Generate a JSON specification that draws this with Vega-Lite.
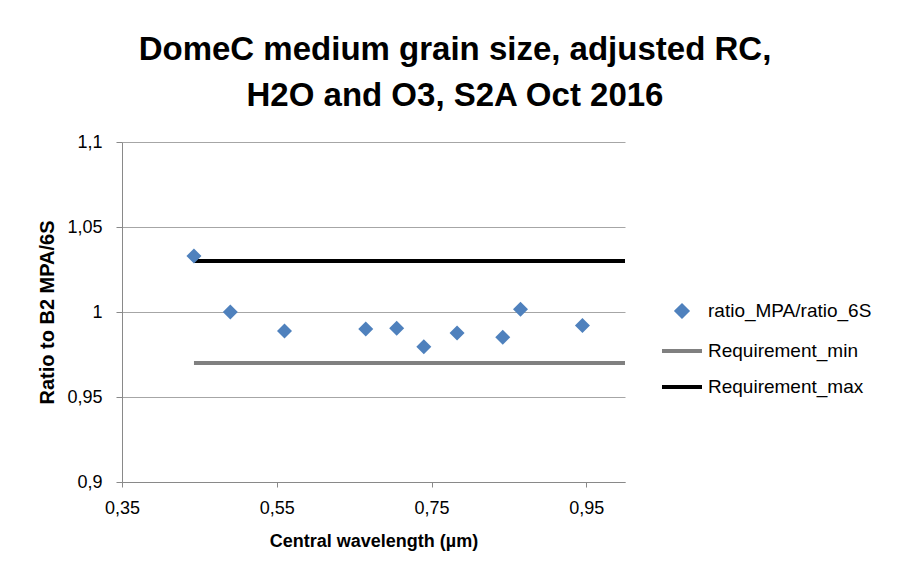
{
  "$schema": "https://vega.github.io/schema/vega-lite/v6.json",
  "width": 503,
  "height": 340,
  "autosize": {"type": "none"},
  "padding": {"left": 122, "top": 142, "right": 276, "bottom": 96},
  "background": "white",
  "title": {
    "text": ["DomeC medium grain size, adjusted RC,", "H2O and O3, S2A Oct 2016"],
    "anchor": "middle",
    "frame": "bounds",
    "font": "Liberation Sans",
    "fontSize": 33,
    "fontWeight": "bold",
    "color": "#000000",
    "lineHeight": 46,
    "offset": 20
  },
  "data": {
    "values": [
      {"series": "ratio_MPA/ratio_6S", "x": 0.443, "y": 1.033},
      {"series": "ratio_MPA/ratio_6S", "x": 0.490, "y": 1.000},
      {"series": "ratio_MPA/ratio_6S", "x": 0.560, "y": 0.9888},
      {"series": "ratio_MPA/ratio_6S", "x": 0.665, "y": 0.990},
      {"series": "ratio_MPA/ratio_6S", "x": 0.705, "y": 0.9905},
      {"series": "ratio_MPA/ratio_6S", "x": 0.740, "y": 0.9796},
      {"series": "ratio_MPA/ratio_6S", "x": 0.783, "y": 0.9876},
      {"series": "ratio_MPA/ratio_6S", "x": 0.842, "y": 0.9851},
      {"series": "ratio_MPA/ratio_6S", "x": 0.865, "y": 1.0016},
      {"series": "ratio_MPA/ratio_6S", "x": 0.945, "y": 0.992},
      {"series": "Requirement_min", "x": 0.443, "y": 0.97},
      {"series": "Requirement_min", "x": 1.0, "y": 0.97},
      {"series": "Requirement_max", "x": 0.443, "y": 1.03},
      {"series": "Requirement_max", "x": 1.0, "y": 1.03}
    ]
  },
  "encoding": {
    "x": {
      "field": "x", "type": "quantitative",
      "scale": {"domain": [0.35, 1.0], "nice": false, "zero": false},
      "axis": {
        "title": "Central wavelength (µm)",
        "values": [0.35, 0.55, 0.75, 0.95],
        "labelExpr": "replace(toString(datum.value), '.', ',')",
        "labelFlush": false,
        "grid": false,
        "tickSize": 5,
        "labelPadding": 12,
        "titlePadding": 15
      }
    },
    "y": {
      "field": "y", "type": "quantitative",
      "scale": {"domain": [0.9, 1.1], "nice": false, "zero": false},
      "axis": {
        "title": "Ratio to B2 MPA/6S",
        "values": [0.9, 0.95, 1.0, 1.05, 1.1],
        "labelExpr": "replace(toString(datum.value), '.', ',')",
        "labelFlush": false,
        "grid": true,
        "tickSize": 6,
        "labelPadding": 14,
        "titlePadding": 9,
        "titleFontSize": 20
      }
    },
    "color": {
      "field": "series", "type": "nominal",
      "scale": {
        "domain": ["ratio_MPA/ratio_6S", "Requirement_min", "Requirement_max"],
        "range": ["#4F81BD", "#808080", "#000000"]
      },
      "legend": {
        "orient": "none",
        "legendX": 538,
        "legendY": 147,
        "title": null,
        "symbolSize": 1600,
        "symbolStrokeWidth": 4,
        "symbolType": "stroke",
        "labelOffset": 4,
        "rowPadding": 4,
        "labelLimit": 400,
        "labelFont": "Liberation Sans",
        "labelFontSize": 19,
        "labelColor": "#000000",
        "encode": {
          "symbols": {
            "update": {
              "shape": {"signal": "datum.value === 'ratio_MPA/ratio_6S' ? 'diamond' : 'stroke'"},
              "size": {"signal": "datum.value === 'ratio_MPA/ratio_6S' ? 110 : 1600"},
              "fill": {"signal": "datum.value === 'ratio_MPA/ratio_6S' ? '#4F81BD' : 'transparent'"},
              "stroke": {"signal": "datum.value === 'ratio_MPA/ratio_6S' ? 'transparent' : (datum.value === 'Requirement_min' ? '#808080' : '#000000')"},
              "strokeWidth": {"value": 4},
              "opacity": {"value": 1}
            }
          }
        }
      }
    }
  },
  "layer": [
    {
      "transform": [{"filter": "datum.series !== 'ratio_MPA/ratio_6S'"}],
      "mark": {"type": "line", "strokeWidth": 4, "clip": true},
      "encoding": {"detail": {"field": "series"}}
    },
    {
      "transform": [{"filter": "datum.series === 'ratio_MPA/ratio_6S'"}],
      "mark": {"type": "point", "shape": "diamond", "filled": true, "size": 225, "opacity": 1}
    }
  ],
  "config": {
    "view": {"stroke": null},
    "axis": {
      "domainColor": "#898989",
      "tickColor": "#898989",
      "gridColor": "#A6A6A6",
      "labelFont": "Liberation Sans",
      "labelFontSize": 18,
      "labelColor": "#000000",
      "titleFont": "Liberation Sans",
      "titleFontSize": 18,
      "titleFontWeight": "bold",
      "titleColor": "#000000"
    }
  }
}
